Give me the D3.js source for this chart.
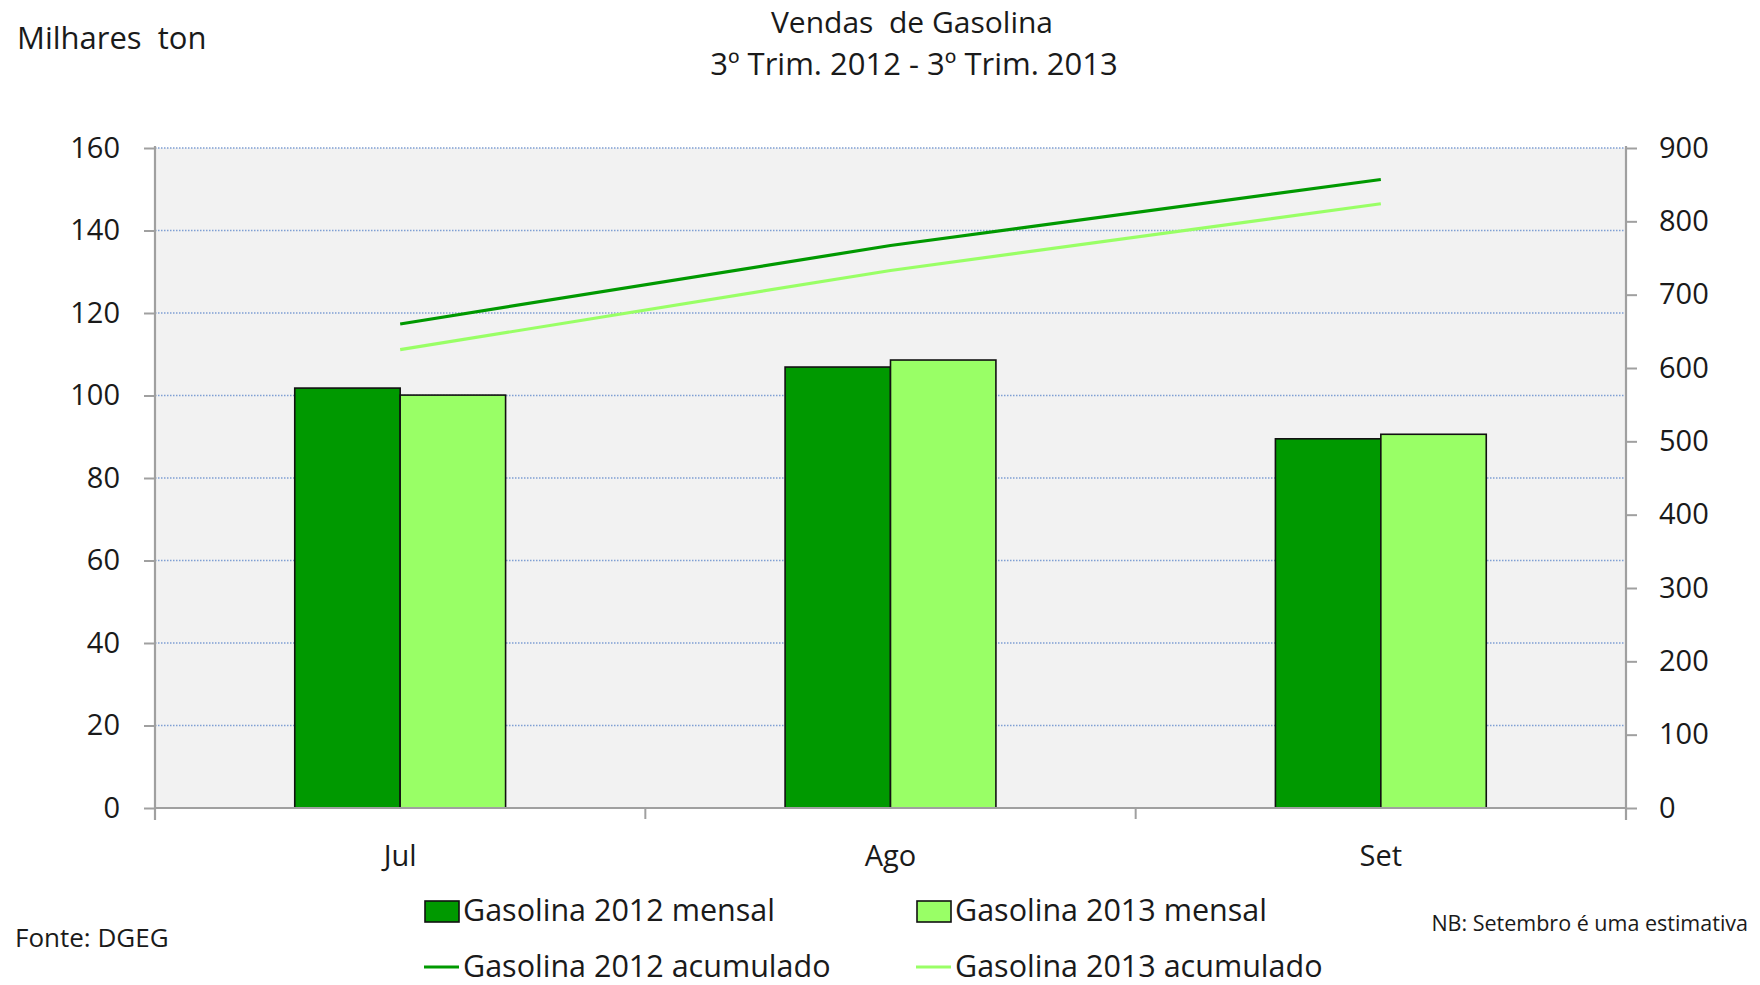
<!DOCTYPE html>
<html>
<head>
<meta charset="utf-8">
<script src="https://cdn.jsdelivr.net/npm/d3@7"></script>
<style>
  body { margin: 0; background: #fff; }
  text { font-family: "Open Sans", sans-serif; fill: #1a1a1a; white-space: pre; }
</style>
</head>
<body>
<div id="chart"></div>
<script>
// data
const months = ['Jul', 'Ago', 'Set'];
const mensal2012 = [101.8, 106.9, 89.5];
const mensal2013 = [100.1, 108.6, 90.6];
const acum2012 = [660, 767, 857];
const acum2013 = [625, 733, 824];
const leftTicks = [0, 20, 40, 60, 80, 100, 120, 140, 160];
const rightTicks = [0, 100, 200, 300, 400, 500, 600, 700, 800, 900];

const W = 1760, H = 985;
const margin = {top: 148, right: 134, bottom: 177, left: 155};
const width = W - margin.left - margin.right;
const height = H - margin.top - margin.bottom;

const dark = '#009900', light = '#99ff66';

const svg = d3.select('#chart').append('svg')
    .attr('width', W).attr('height', H);

const g = svg.append('g')
    .attr('transform', 'translate(' + margin.left + ',' + margin.top + ')');

// scales
const x0 = d3.scaleBand().domain(months).range([0, width]).padding(0);
const groupW = x0.bandwidth() * 0.43;
const x1 = d3.scaleBand().domain(['2012', '2013'])
    .range([-groupW / 2, groupW / 2]).padding(0);
const yL = d3.scaleLinear().domain([0, 160]).range([height, 0]);
const yR = d3.scaleLinear().domain([0, 900]).range([height, 0]);

// plot background
g.append('rect')
    .attr('width', width).attr('height', height)
    .attr('fill', '#f2f2f2');

// gridlines
g.append('g').selectAll('line')
    .data(leftTicks.filter(d => d > 0))
    .join('line')
    .attr('x1', 0).attr('x2', width)
    .attr('y1', d => yL(d)).attr('y2', d => yL(d))
    .attr('stroke', '#7f9fd3')
    .attr('stroke-width', 1.3)
    .attr('stroke-dasharray', '1.5,1.5');

// bars
const series = [
    {key: '2012', values: mensal2012, color: dark},
    {key: '2013', values: mensal2013, color: light}
];
series.forEach(s => {
    g.append('g').selectAll('rect')
        .data(s.values)
        .join('rect')
        .attr('x', (d, i) => x0(months[i]) + x0.bandwidth() / 2 + x1(s.key))
        .attr('width', x1.bandwidth())
        .attr('y', d => yL(d))
        .attr('height', d => height - yL(d))
        .attr('fill', s.color)
        .attr('stroke', '#111')
        .attr('stroke-width', 1.6);
});

// cumulative lines on right axis
const line = d3.line()
    .x((d, i) => x0(months[i]) + x0.bandwidth() / 2)
    .y(d => yR(d));
[[acum2012, dark], [acum2013, light]].forEach(([vals, col]) => {
    g.append('path')
        .datum(vals)
        .attr('d', line)
        .attr('fill', 'none')
        .attr('stroke', col)
        .attr('stroke-width', 3.2);
});

// axes
const axisColor = '#a0a0a0';
const leftAxis = g.append('g')
    .call(d3.axisLeft(yL).tickValues(leftTicks).tickSize(11).tickPadding(24));
const rightAxis = g.append('g')
    .attr('transform', 'translate(' + width + ',0)')
    .call(d3.axisRight(yR).tickValues(rightTicks).tickSize(11).tickPadding(22));
const bottomAxis = g.append('g')
    .attr('transform', 'translate(0,' + height + ')')
    .call(d3.axisBottom(x0).tickSize(0).tickPadding(37));

// category boundary ticks
g.append('g').selectAll('line')
    .data(d3.range(months.length + 1))
    .join('line')
    .attr('x1', i => i * x0.bandwidth()).attr('x2', i => i * x0.bandwidth())
    .attr('y1', height).attr('y2', height + 11)
    .attr('stroke', axisColor).attr('stroke-width', 2);

[leftAxis, rightAxis, bottomAxis].forEach(a => {
    a.select('.domain').attr('stroke', axisColor).attr('stroke-width', 2.2);
    a.selectAll('.tick line').attr('stroke', axisColor).attr('stroke-width', 2);
    a.selectAll('.tick text')
        .style('font-family', '"Open Sans", sans-serif')
        .style('font-size', '29px')
        .attr('fill', '#1a1a1a');
});
leftAxis.select('.domain').attr('d', 'M0,-2V' + (height + 12));
rightAxis.select('.domain').attr('d', 'M0,-2V' + (height + 12));
bottomAxis.select('.domain').attr('d', 'M0,' + 0 + 'H' + width);

// titles
svg.append('text')
    .attr('x', 912).attr('y', 33)
    .attr('text-anchor', 'middle')
    .style('font-size', '30px')
    .text('Vendas  de Gasolina');
svg.append('text')
    .attr('x', 914).attr('y', 75)
    .attr('text-anchor', 'middle')
    .style('font-size', '31px')
    .text('3º Trim. 2012 - 3º Trim. 2013');
svg.append('text')
    .attr('x', 17).attr('y', 49)
    .style('font-size', '31px')
    .text('Milhares  ton');
svg.append('text')
    .attr('x', 15).attr('y', 947)
    .style('font-size', '26px')
    .text('Fonte: DGEG');
svg.append('text')
    .attr('x', 1748).attr('y', 931)
    .attr('text-anchor', 'end')
    .style('font-size', '21.5px')
    .text('NB: Setembro é uma estimativa');

// legend
const legendItems = [
    {label: 'Gasolina 2012 mensal', color: dark, type: 'bar', x: 424, y: 911},
    {label: 'Gasolina 2013 mensal', color: light, type: 'bar', x: 916, y: 911},
    {label: 'Gasolina 2012 acumulado', color: dark, type: 'line', x: 424, y: 967},
    {label: 'Gasolina 2013 acumulado', color: light, type: 'line', x: 916, y: 967}
];
const legend = svg.append('g');
legendItems.forEach(d => {
    if (d.type === 'bar') {
        legend.append('rect')
            .attr('x', d.x + 1).attr('y', d.y - 10)
            .attr('width', 34).attr('height', 21)
            .attr('fill', d.color).attr('stroke', '#111').attr('stroke-width', 1.6);
    } else {
        legend.append('line')
            .attr('x1', d.x).attr('x2', d.x + 35)
            .attr('y1', d.y).attr('y2', d.y)
            .attr('stroke', d.color).attr('stroke-width', 3.2);
    }
    legend.append('text')
        .attr('x', d.x + 39).attr('y', d.y + 10)
        .style('font-size', '30.5px')
        .text(d.label);
});
</script>
</body>
</html>
